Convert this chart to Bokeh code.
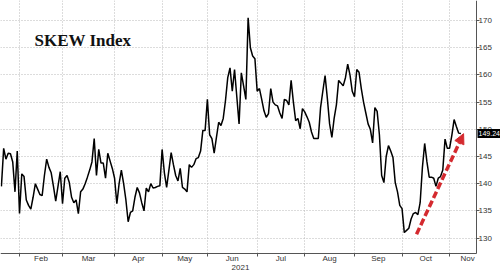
from bokeh.plotting import figure
from bokeh.models import (Range1d, FixedTicker, Label, Arrow, NormalHead)
from bokeh.embed import file_html
from bokeh.resources import INLINE

# SKEW index, one value per trading day (Jan 20 2021 -> Nov 8 2021)
skew_values = [
    139.5, 146.5, 144.5, 145.6, 145.5, 144.0, 138.5, 146.0, 134.5, 141.8,
    141.3, 137.0, 136.0, 135.3, 137.5, 140.0, 139.0, 138.0, 137.8, 141.5,
    144.5, 143.0, 142.0, 139.5, 136.8, 139.5, 142.2, 136.3, 141.0, 141.5,
    140.2, 137.5, 136.5, 137.0, 134.5, 138.5, 139.0, 140.0, 141.2, 142.5,
    144.0, 148.3, 141.5, 146.3, 143.8, 143.8, 141.0, 145.6, 144.2, 142.8,
    141.0, 136.3, 140.0, 142.5, 140.0, 137.0, 133.0, 134.7, 135.0, 137.5,
    139.3, 138.3, 136.5, 135.0, 139.2, 138.5, 140.0, 139.2, 139.3, 139.5,
    139.6, 146.3, 142.0, 139.3, 142.5, 145.7, 143.5, 141.5, 140.5, 142.8,
    139.3, 139.0, 138.5, 143.5, 143.0, 143.5, 144.6, 144.8, 146.0, 149.8,
    149.8, 155.5, 149.0, 148.3, 145.6, 148.5, 151.3, 150.7, 152.0, 155.3,
    159.5, 161.3, 157.0, 161.0, 156.0, 151.0, 160.4, 158.0, 155.5, 170.5,
    165.0, 163.5, 163.0, 157.0, 157.5, 155.5, 153.4, 152.2, 152.9, 157.5,
    155.0, 154.5, 154.3, 153.0, 152.0, 155.5, 155.3, 154.5, 159.0, 155.0,
    151.6, 152.0, 150.1, 153.8, 153.2, 152.3, 151.3, 149.5, 148.3, 148.3,
    148.3, 154.0, 157.0, 159.9, 155.7, 151.0, 148.5, 152.0, 154.5, 159.0,
    158.5, 158.0, 159.5, 162.0, 160.0, 157.0, 156.0, 161.0, 160.5, 157.5,
    155.0, 153.0, 151.0, 150.0, 147.5, 154.0, 153.3, 149.0, 141.5, 140.2,
    145.0, 147.0, 146.0, 144.8, 140.2, 138.5, 136.0, 135.4, 131.0, 131.4,
    131.8, 133.5, 134.5, 134.7, 134.3, 136.5, 143.0, 147.4, 144.0, 141.2,
    141.2, 141.0, 139.5, 141.0, 141.3, 142.5, 148.2, 146.5, 146.5, 148.9,
    151.8, 150.5, 149.3, 149.24,
]
day_index = list(range(len(skew_values)))

# first trading day of each month (index into the series)
month_starts = [8, 27, 50, 71, 91, 113, 134, 156, 177, 198]
month_labels = ["Feb", "Mar", "Apr", "May", "Jun", "Jul", "Aug", "Sep", "Oct", "Nov"]
month_label_pos = [17.5, 38.5, 60.5, 81, 102, 123.5, 145, 166.5, 187.5, 206]
year_label = "2021"
year_label_pos = 105.6

y_ticks = [130, 135, 140, 145, 150, 155, 160, 165, 170]

last_value_text = "149.24"
last_value = 149.24

arrow_x = [183.4, 204.2]
arrow_y = [130.7, 149.2]

title_text = "SKEW Index"

# axis placement in data units (chart area ends here)
X_START, X_AXIS, X_END = -0.4, 209.9, 220.5
Y_AXIS, Y_TOP, Y_BOTTOM = 127.15, 173.7, 123.84

RED = "#d42a2f"
AXIS = "#555555"
GRID = "#b8b8b8"
LABEL = "#333333"

p = figure(width=500, height=271, output_backend="svg", toolbar_location=None,
           x_range=Range1d(X_START, X_END), y_range=Range1d(Y_BOTTOM, Y_TOP),
           y_axis_location="right", min_border_left=0, min_border_top=0,
           min_border_right=0, min_border_bottom=0)
p.outline_line_color = None
p.background_fill_color = "white"
p.border_fill_color = "white"

p.line(day_index, skew_values, line_color="black", line_width=1.5)

# grids
p.xgrid.ticker = FixedTicker(ticks=month_starts)
p.ygrid.ticker = FixedTicker(ticks=y_ticks)
p.xgrid.cross_bounds = (Y_AXIS, Y_TOP)
p.ygrid.cross_bounds = (X_START, X_AXIS)
for g in (p.xgrid, p.ygrid):
    g.grid_line_color = GRID
    g.grid_line_dash = "1 2"
    g.grid_line_width = 1

# x axis
xa = p.xaxis[0]
xa.fixed_location = Y_AXIS
xa.bounds = (X_START, X_AXIS)
xa.ticker = FixedTicker(ticks=month_label_pos, minor_ticks=month_starts)
xa.major_label_overrides = {pos: lab for pos, lab in zip(month_label_pos, month_labels)}
xa.major_tick_line_color = None
xa.minor_tick_out = 3
xa.minor_tick_in = 0
xa.minor_tick_line_color = AXIS
xa.axis_line_color = AXIS
xa.major_label_text_font = "Liberation Sans"
xa.major_label_text_font_size = "8px"
xa.major_label_text_color = LABEL
xa.major_label_standoff = -6

# y axis (right)
ya = p.yaxis[0]
ya.fixed_location = X_AXIS
ya.bounds = (Y_AXIS, Y_TOP)
ya.ticker = FixedTicker(ticks=y_ticks)
ya.minor_tick_line_color = None
ya.major_tick_out = 3
ya.major_tick_in = 0
ya.major_tick_line_color = AXIS
ya.axis_line_color = AXIS
ya.major_label_text_font = "Liberation Sans"
ya.major_label_text_font_size = "8px"
ya.major_label_text_color = LABEL
ya.major_label_standoff = -1

# year label under Jun
p.add_layout(Label(x=year_label_pos, y=4, x_units="data", y_units="screen",
                   text=year_label, text_font="Liberation Sans", text_font_size="8px",
                   text_color=LABEL, text_align="center", text_baseline="middle"))

# title
p.add_layout(Label(x=34, y=231, x_units="screen", y_units="screen", text=title_text,
                   text_font="Liberation Serif", text_font_style="bold",
                   text_font_size="17px", text_color="#111111",
                   text_baseline="alphabetic"))

# last value box
p.add_layout(Label(x=X_AXIS, y=last_value, x_units="data", y_units="data",
                   x_offset=1, text=last_value_text, text_font="Liberation Sans",
                   text_font_size="7px", text_color="white", padding=(1, 2),
                   background_fill_color="black", text_baseline="middle",
                   text_align="left"))

# red dashed arrow
p.add_layout(Arrow(end=NormalHead(size=10, fill_color=RED, line_color=RED, line_width=1),
                   x_start=arrow_x[0], y_start=arrow_y[0],
                   x_end=arrow_x[1], y_end=arrow_y[1],
                   line_color=RED, line_width=3.5, line_dash="7 3"))

open("out.html", "w").write(file_html(p, INLINE))
